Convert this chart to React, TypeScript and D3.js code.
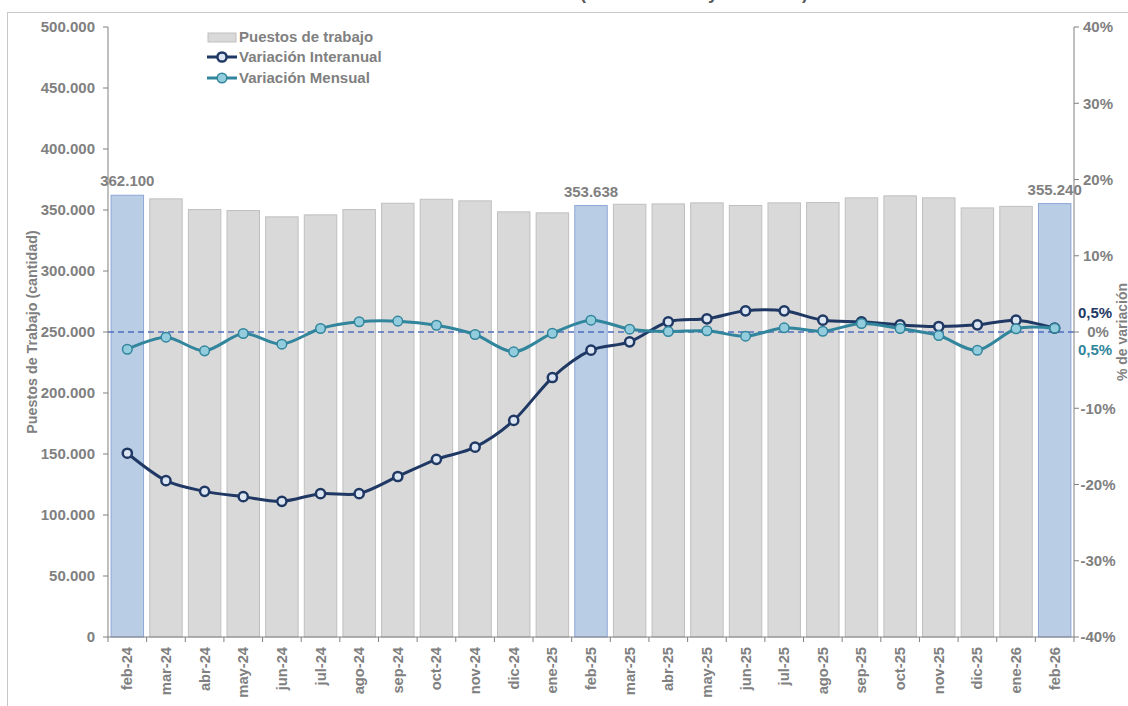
import React from "react";
import * as d3 from "d3";

const categories = ["feb-24","mar-24","abr-24","may-24","jun-24","jul-24","ago-24","sep-24","oct-24","nov-24","dic-24","ene-25","feb-25","mar-25","abr-25","may-25","jun-25","jul-25","ago-25","sep-25","oct-25","nov-25","dic-25","ene-26","feb-26"];
const puestos = [362100,359130,350360,349540,344370,346010,350360,355520,358800,357490,348470,347650,353638,354700,355000,355850,353700,355850,356100,359950,361600,359950,351700,353000,355240];
const varInteranual = [-15.9,-19.5,-20.9,-21.6,-22.2,-21.2,-21.2,-18.95,-16.7,-15.1,-11.6,-5.97,-2.39,-1.29,1.34,1.73,2.78,2.78,1.55,1.34,0.94,0.72,0.94,1.55,0.5];
const varMensual = [-2.26,-0.68,-2.47,-0.2,-1.6,0.46,1.34,1.42,0.89,-0.33,-2.6,-0.16,1.55,0.37,0.07,0.16,-0.55,0.55,0.1,1.11,0.46,-0.46,-2.39,0.42,0.5];
const highlighted = ["feb-24","feb-25","feb-26"];
const leftTicks = [0,50000,100000,150000,200000,250000,300000,350000,400000,450000,500000];
const rightTicks = [-40,-30,-20,-10,0,10,20,30,40];
const legendItems = ["Puestos de trabajo","Variación Interanual","Variación Mensual"];

const W = 1128, H = 706;
const FONT = "'Liberation Sans', Arial, sans-serif";
const GRAY = "#808080";
const NAVY = "#1f3864";
const TEAL = "#31859c";

const loc = d3.formatLocale({ decimal: ",", thousands: ".", grouping: [3], currency: ["", ""] });
const fmtN = loc.format(",d");
const fmtP = (v: number) => `${v}%`;

export default function App() {
  const x = d3.scaleBand<string>().domain(categories).range([108, 1074]).paddingInner(0.16).paddingOuter(0.08);
  const yL = d3.scaleLinear().domain([0, 500000]).range([637, 27]);
  const yR = d3.scaleLinear().domain([-40, 40]).range([637, 27]);
  const bw = x.bandwidth();
  const step = x.step();
  const cx = (c: string) => (x(c) as number) + bw / 2;

  const line = d3.line<number>()
    .x((_, i) => cx(categories[i]))
    .y((d) => yR(d))
    .curve(d3.curveCardinal.tension(0.1));

  const boundaries = categories.map((c) => cx(c) - step / 2).concat([cx(categories[categories.length - 1]) + step / 2]);

  return (
    <svg width={W} height={H} style={{ position: "absolute", left: 0, top: 0 }} fontFamily={FONT}>
      <rect x={0} y={0} width={W} height={H} fill="#fff" />
      <text x={580} y={-1} fontSize={18} fontWeight="bold" fill="#595959">(cantidad total y variación)</text>
      <rect x={7.5} y={12.5} width={1300} height={900} fill="none" stroke="#c8c8c8" strokeWidth={1} />

      {/* bars */}
      {categories.map((c, i) => {
        const hl = highlighted.includes(c);
        return (
          <rect key={c} x={x(c)} y={yL(puestos[i])} width={bw} height={yL(0) - yL(puestos[i])}
            fill={hl ? "#b9cde5" : "#d9d9d9"} stroke={hl ? "#8ea6d6" : "#bfbfbf"} strokeWidth={1} />
        );
      })}

      {/* bar labels */}
      {categories.map((c, i) => highlighted.includes(c) ? (
        <text key={"l" + c} x={cx(c)} y={yL(puestos[i]) - 9} textAnchor="middle" fontSize={15} fontWeight="bold" fill={GRAY}>{fmtN(puestos[i])}</text>
      ) : null)}

      {/* zero dashed line */}
      <line x1={108} x2={1074} y1={yR(0)} y2={yR(0)} stroke="#4f6fbf" strokeWidth={1.3} strokeDasharray="6,4" />

      {/* left axis */}
      <line x1={108} x2={108} y1={27} y2={637} stroke={GRAY} />
      {leftTicks.map((t) => (
        <g key={"lt" + t}>
          <line x1={103} x2={108} y1={yL(t)} y2={yL(t)} stroke={GRAY} />
          <text x={95} y={yL(t)} dy="0.35em" textAnchor="end" fontSize={15} fontWeight="bold" fill={GRAY}>{fmtN(t)}</text>
        </g>
      ))}
      <text transform={`translate(37,${(27 + 637) / 2}) rotate(-90)`} textAnchor="middle" fontSize={14.3} fontWeight="bold" fill={GRAY}>Puestos de Trabajo (cantidad)</text>

      {/* right axis */}
      <line x1={1074} x2={1074} y1={27} y2={637} stroke={GRAY} />
      {rightTicks.map((t) => (
        <g key={"rt" + t}>
          <line x1={1074} x2={1079} y1={yR(t)} y2={yR(t)} stroke={GRAY} />
          <text x={1098} y={yR(t)} dy="0.35em" textAnchor="middle" fontSize={15} fontWeight="bold" fill={GRAY}>{fmtP(t)}</text>
        </g>
      ))}
      <text transform={`translate(1127,${yR(0)}) rotate(-90)`} textAnchor="middle" fontSize={14} fontWeight="bold" fill={GRAY}>% de variación</text>

      {/* bottom axis */}
      <line x1={108} x2={1074} y1={637} y2={637} stroke={GRAY} />
      {boundaries.map((b, i) => (
        <line key={"bt" + i} x1={b} x2={b} y1={637} y2={642} stroke={GRAY} />
      ))}
      {categories.map((c) => (
        <text key={"xl" + c} transform={`translate(${cx(c) + 5},647) rotate(-90)`} textAnchor="end" fontSize={14.7} fontWeight="bold" fill={GRAY}>{c}</text>
      ))}

      {/* interanual line */}
      <path d={line(varInteranual) || ""} fill="none" stroke={NAVY} strokeWidth={3} />
      {varInteranual.map((v, i) => (
        <circle key={"ia" + i} cx={cx(categories[i])} cy={yR(v)} r={4.6} fill="#dce6f2" stroke={NAVY} strokeWidth={2.5} />
      ))}

      {/* mensual line */}
      <path d={line(varMensual) || ""} fill="none" stroke={TEAL} strokeWidth={3} />
      {varMensual.map((v, i) => (
        <circle key={"m" + i} cx={cx(categories[i])} cy={yR(v)} r={4.8} fill="#93cddd" stroke={TEAL} strokeWidth={1.5} />
      ))}

      {/* end annotations */}
      <text x={1095} y={313} dy="0.35em" textAnchor="middle" fontSize={15} fontWeight="bold" fill={NAVY}>0,5%</text>
      <text x={1095} y={350} dy="0.35em" textAnchor="middle" fontSize={15} fontWeight="bold" fill={TEAL}>0,5%</text>

      {/* legend */}
      <g>
        <rect x={208} y={33} width={28} height={9} fill="#d9d9d9" stroke="#bfbfbf" />
        <text x={239} y={37} dy="0.35em" fontSize={15} fontWeight="bold" fill={GRAY}>{legendItems[0]}</text>
        <line x1={207} x2={237} y1={57} y2={57} stroke={NAVY} strokeWidth={3} />
        <circle cx={222} cy={57} r={4.6} fill="#dce6f2" stroke={NAVY} strokeWidth={2.5} />
        <text x={239} y={57} dy="0.35em" fontSize={15} fontWeight="bold" fill={GRAY}>{legendItems[1]}</text>
        <line x1={207} x2={237} y1={78} y2={78} stroke={TEAL} strokeWidth={3} />
        <circle cx={222} cy={78} r={4.8} fill="#93cddd" stroke={TEAL} strokeWidth={1.5} />
        <text x={239} y={78} dy="0.35em" fontSize={15} fontWeight="bold" fill={GRAY}>{legendItems[2]}</text>
      </g>
    </svg>
  );
}
